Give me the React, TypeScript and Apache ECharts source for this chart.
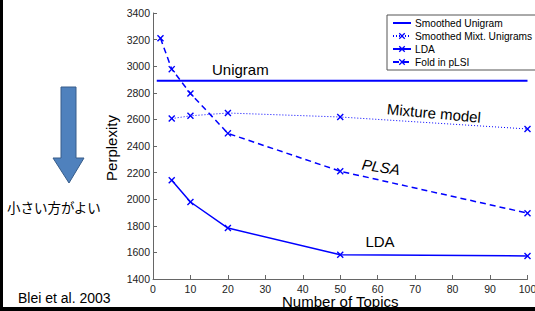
import React, { useEffect, useRef } from "react";
import * as echarts from "echarts";

const unigramX = [1, 100];
const unigramY = [2890, 2890];
const mixX = [5, 10, 20, 50, 100];
const mixY = [2606, 2627, 2648, 2618, 2528];
const ldaX = [5, 10, 20, 50, 100];
const ldaY = [2142, 1979, 1783, 1583, 1573];
const plsaX = [2, 5, 10, 20, 50, 100];
const plsaY = [3210, 2978, 2795, 2495, 2210, 1895];
const seriesNames = ["Smoothed Unigram", "Smoothed Mixt. Unigrams", "LDA", "Fold in pLSI"];

const BLUE = "#0000ff";
const FONT = "'Liberation Sans', Arial, sans-serif";
const XSYM =
  "path://M0,1.4L1.4,0L5,3.6L8.6,0L10,1.4L6.4,5L10,8.6L8.6,10L5,6.4L1.4,10L0,8.6L3.6,5Z";

const zip = (xs: number[], ys: number[]) => xs.map((x, i) => [x, ys[i]]);

export default function App() {
  const ref = useRef<HTMLDivElement>(null);
  useEffect(() => {
    if (!ref.current) return;
    const chart = echarts.init(ref.current, undefined, { renderer: "svg" });
    chart.setOption({
      animation: false,
      backgroundColor: "#ffffff",
      grid: { left: 153, right: 7.5, top: 13, bottom: 32, outerBoundsMode: "none", containLabel: false },
      xAxis: {
        type: "value",
        min: 0,
        max: 100,
        interval: 10,
        name: "Number of Topics",
        nameLocation: "middle",
        nameGap: 15,
        nameMoveOverlap: false,
        nameTextStyle: { fontFamily: FONT, fontSize: 15, lineHeight: 15, color: "#000" },
        axisLine: { lineStyle: { color: "#666", width: 1 } },
        axisTick: { inside: true, length: 4, lineStyle: { color: "#666" } },
        axisLabel: { fontFamily: FONT, fontSize: 10.5, lineHeight: 10, color: "#222", margin: 5 },
        splitLine: { show: false },
      },
      yAxis: {
        type: "value",
        min: 1400,
        max: 3400,
        interval: 200,
        axisLine: { show: true, lineStyle: { color: "#666", width: 1 } },
        axisTick: { show: true, inside: true, length: 4, lineStyle: { color: "#666" } },
        axisLabel: {
          fontFamily: FONT,
          fontSize: 10.5,
          color: "#222",
          margin: 3,
          formatter: (v: number) => String(v),
        },
        splitLine: { show: false },
      },
      legend: {
        orient: "vertical",
        left: 387,
        top: 15,
        data: [
          { name: seriesNames[0], itemStyle: { opacity: 0 } },
          seriesNames[1],
          seriesNames[2],
          seriesNames[3],
        ],
        backgroundColor: "#fff",
        borderColor: "#555",
        borderWidth: 1,
        borderRadius: 0,
        padding: [3, 4, 3, 5],
        itemWidth: 18,
        itemHeight: 8,
        itemGap: 3,
        textStyle: { fontFamily: FONT, fontSize: 10.2, color: "#000", padding: [0, 0, 0, -1] },
      },
      series: [
        {
          name: seriesNames[0],
          type: "line",
          data: zip(unigramX, unigramY),
          symbol: "none",
          lineStyle: { color: BLUE, width: 2 },
          itemStyle: { color: BLUE },
        },
        {
          name: seriesNames[1],
          type: "line",
          data: zip(mixX, mixY),
          symbol: XSYM,
          symbolSize: 7,
          lineStyle: { color: BLUE, width: 1, type: [1, 2] },
          itemStyle: { color: BLUE },
        },
        {
          name: seriesNames[2],
          type: "line",
          data: zip(ldaX, ldaY),
          symbol: XSYM,
          symbolSize: 7,
          lineStyle: { color: BLUE, width: 1.5 },
          itemStyle: { color: BLUE },
        },
        {
          name: seriesNames[3],
          type: "line",
          data: zip(plsaX, plsaY),
          symbol: XSYM,
          symbolSize: 7,
          lineStyle: { color: BLUE, width: 1.5, type: [6, 4] },
          itemStyle: { color: BLUE },
        },
      ],
      graphic: [
        {
          type: "polygon",
          shape: {
            points: [
              [61, 87],
              [76, 87],
              [76, 158],
              [84, 158],
              [69, 183],
              [53, 158],
              [61, 158],
            ],
          },
          style: { fill: "#4f81bd", stroke: "#385d8a", lineWidth: 1 },
        },
        {
          type: "text",
          x: 7,
          y: 207,
          style: {
            text: "小さい方がよい",
            font: "13.5px 'Noto Sans CJK JP', sans-serif",
            fill: "#000",
            textAlign: "left",
            textVerticalAlign: "middle",
          },
        },
        {
          type: "text",
          x: 18,
          y: 298,
          style: {
            text: "Blei et al. 2003",
            font: `14px ${FONT}`,
            fill: "#000",
            textAlign: "left",
            textVerticalAlign: "middle",
          },
        },
        {
          type: "text",
          x: 111,
          y: 148,
          rotation: Math.PI / 2,
          style: {
            text: "Perplexity",
            font: `15px ${FONT}`,
            fill: "#000",
            textAlign: "center",
            textVerticalAlign: "middle",
          },
        },
        {
          type: "text",
          x: 212,
          y: 69,
          style: {
            text: "Unigram",
            font: `15px ${FONT}`,
            fill: "#000",
            textAlign: "left",
            textVerticalAlign: "middle",
          },
        },
        {
          type: "text",
          x: 434,
          y: 113,
          rotation: -0.09,
          style: {
            text: "Mixture model",
            font: `15px ${FONT}`,
            fill: "#000",
            textAlign: "center",
            textVerticalAlign: "middle",
          },
        },
        {
          type: "text",
          x: 381,
          y: 167,
          rotation: -0.15,
          style: {
            text: "PLSA",
            font: `italic 15px ${FONT}`,
            fill: "#000",
            textAlign: "center",
            textVerticalAlign: "middle",
          },
        },
        {
          type: "text",
          x: 380,
          y: 241,
          style: {
            text: "LDA",
            font: `15px ${FONT}`,
            fill: "#000",
            textAlign: "center",
            textVerticalAlign: "middle",
          },
        },
        {
          type: "rect",
          z: 100,
          shape: { x: 0, y: 0, width: 3, height: 311 },
          style: { fill: "#000" },
        },
        {
          type: "rect",
          z: 100,
          shape: { x: 0, y: 307, width: 535, height: 4 },
          style: { fill: "#000" },
        },
      ],
    });
    return () => chart.dispose();
  }, []);
  return (
    <div
      ref={ref}
      style={{ position: "fixed", left: 0, top: 0, width: 535, height: 311 }}
    />
  );
}
